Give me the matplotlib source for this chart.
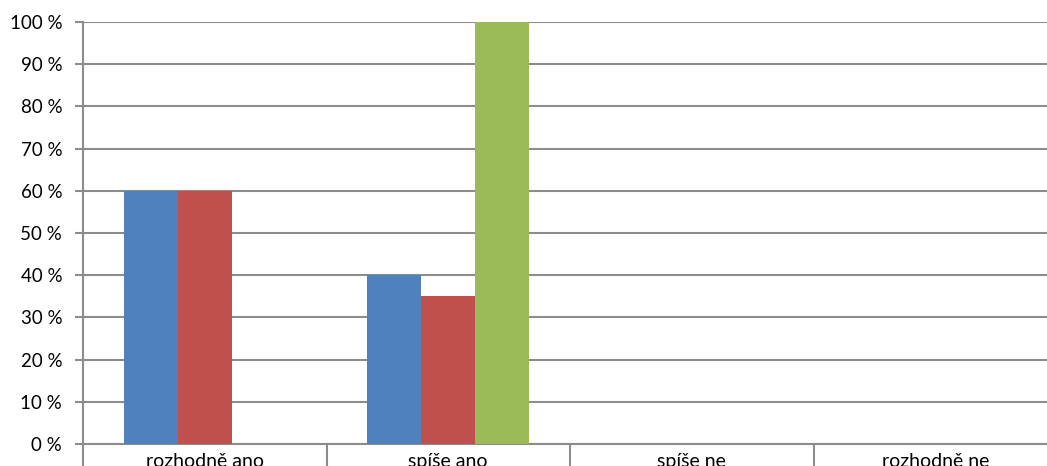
import matplotlib
matplotlib.use("Agg")
import matplotlib.pyplot as plt
import numpy as np

categories = ["rozhodně ano", "spíše ano", "spíše ne", "rozhodně ne"]
series_blue = [60, 40, 0, 0]
series_red = [60, 35, 0, 0]
series_green = [0, 100, 0, 0]
yticks = list(range(0, 101, 10))

plt.rcParams['font.family'] = ['Lato', 'DejaVu Sans']

W, H = 1047, 466
fig = plt.figure(figsize=(W / 100, H / 100), dpi=100)
ax = fig.add_axes([83 / W, (H - 444) / H, 974 / W, (444 - 22) / H])

x = np.arange(len(categories))
bw = 1 / 4.5
colors = ["#4F81BD", "#C0504D", "#9BBB59"]
for i, (vals, c) in enumerate(zip([series_blue, series_red, series_green], colors)):
    ax.bar(x + (i - 1) * bw, vals, width=bw, color=c, zorder=3, linewidth=0)

ax.set_xlim(-0.5, len(categories) - 0.5)
ax.set_ylim(0, 100)
ax.set_yticks(yticks)
ax.set_yticklabels([f"{v} %" for v in yticks])
ax.yaxis.grid(True, color="#8c8c8c", linewidth=1.5, zorder=0)
ax.set_axisbelow(True)

ax.set_xticks(x)
ax.set_xticklabels(categories)
ax.set_xticks(np.arange(-0.5, len(categories), 1), minor=True)
ax.tick_params(axis='x', which='major', length=0, pad=6.5, labelsize=14, colors='black')
ax.tick_params(axis='x', which='minor', length=20, width=1.5, color="#8c8c8c", direction='out')
ax.tick_params(axis='y', length=6, width=1.5, color="#8c8c8c", pad=9, labelsize=13.5)

for s in ['top', 'right']:
    ax.spines[s].set_visible(False)
for s in ['left', 'bottom']:
    ax.spines[s].set_color("#8c8c8c")
    ax.spines[s].set_linewidth(1.5)

fig.savefig("out.png", dpi=100)
